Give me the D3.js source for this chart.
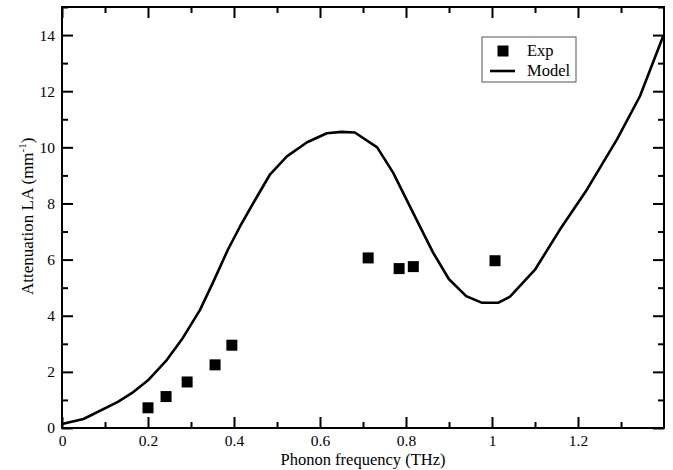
<!DOCTYPE html>
<html>
<head>
<meta charset="utf-8">
<script src="https://cdn.jsdelivr.net/npm/d3@7"></script>
<style>
  body { margin: 0; background: #fff; }
  svg text { font-family: "Liberation Serif", "DejaVu Serif", serif; fill: #000; }
</style>
</head>
<body>
<div id="chart"></div>
<script>
// model curve
var modelFreq  = [0, 0.05, 0.13, 0.163, 0.2, 0.244, 0.281, 0.321, 0.351, 0.386, 0.414, 0.45, 0.484, 0.523, 0.57, 0.616, 0.65, 0.681, 0.733, 0.77, 0.816, 0.863, 0.9, 0.94, 0.977, 1.014, 1.042, 1.1, 1.158, 1.221, 1.291, 1.344, 1.398];
var modelAtten = [0.14, 0.32, 0.93, 1.25, 1.7, 2.43, 3.21, 4.21, 5.18, 6.36, 7.18, 8.15, 9.04, 9.68, 10.18, 10.5, 10.55, 10.53, 10.0, 9.1, 7.68, 6.25, 5.3, 4.7, 4.46, 4.46, 4.68, 5.64, 7.07, 8.5, 10.29, 11.82, 13.96];

// experimental points
var expFreq  = [0.2, 0.242, 0.291, 0.356, 0.395, 0.712, 0.784, 0.817, 1.007];
var expAtten = [0.72, 1.12, 1.64, 2.25, 2.95, 6.06, 5.68, 5.75, 5.96];

// ticks
var xMajor = [0, 0.2, 0.4, 0.6, 0.8, 1.0, 1.2];
var xMinor = [0.1, 0.3, 0.5, 0.7, 0.9, 1.1, 1.3];
var yMajor = [0, 2, 4, 6, 8, 10, 12, 14];
var yMinor = [1, 3, 5, 7, 9, 11, 13, 15];

var width = 673, height = 470;
// plot box (note: "top" is taken by window.top)
var pLeft = 62, pRight = 664, pTop = 7, pBottom = 428;

var svg = d3.select("#chart").append("svg")
  .attr("width", width)
  .attr("height", height);

var x = d3.scaleLinear().domain([0, 1.4]).range([pLeft, pRight]);
var y = d3.scaleLinear().domain([0, 15]).range([pBottom, pTop]);

// axes, ticks pointing inward on all four sides
function styleAxis(g) {
  g.select(".domain").remove();
  g.selectAll(".tick line").attr("stroke", "#000").attr("stroke-width", 2);
  g.selectAll(".tick text").style("font-size", "15.5px");
}

svg.append("g").attr("transform", "translate(0," + pBottom + ")")
  .call(d3.axisBottom(x).tickValues(xMajor).tickSize(-11).tickPadding(7).tickFormat(d3.format("~g")))
  .call(styleAxis);
svg.append("g").attr("transform", "translate(0," + pBottom + ")")
  .call(d3.axisBottom(x).tickValues(xMinor).tickSize(-6).tickFormat(""))
  .call(styleAxis);
svg.append("g").attr("transform", "translate(0," + pTop + ")")
  .call(d3.axisTop(x).tickValues(xMajor).tickSize(-11).tickFormat(""))
  .call(styleAxis);
svg.append("g").attr("transform", "translate(0," + pTop + ")")
  .call(d3.axisTop(x).tickValues(xMinor).tickSize(-6).tickFormat(""))
  .call(styleAxis);

svg.append("g").attr("transform", "translate(" + pLeft + ",0)")
  .call(d3.axisLeft(y).tickValues(yMajor).tickSize(-11).tickPadding(7).tickFormat(d3.format("d")))
  .call(styleAxis);
svg.append("g").attr("transform", "translate(" + pLeft + ",0)")
  .call(d3.axisLeft(y).tickValues(yMinor).tickSize(-6).tickFormat(""))
  .call(styleAxis);
svg.append("g").attr("transform", "translate(" + pRight + ",0)")
  .call(d3.axisRight(y).tickValues(yMajor).tickSize(-11).tickFormat(""))
  .call(styleAxis);
svg.append("g").attr("transform", "translate(" + pRight + ",0)")
  .call(d3.axisRight(y).tickValues(yMinor).tickSize(-6).tickFormat(""))
  .call(styleAxis);

// frame
svg.append("rect")
  .attr("x", pLeft).attr("y", pTop)
  .attr("width", pRight - pLeft).attr("height", pBottom - pTop)
  .attr("fill", "none").attr("stroke", "#000").attr("stroke-width", 2);

// model line
var line = d3.line()
  .x(function(d, i) { return x(modelFreq[i]); })
  .y(function(d, i) { return y(modelAtten[i]); });

svg.append("path")
  .datum(modelFreq)
  .attr("d", line)
  .attr("fill", "none")
  .attr("stroke", "#000")
  .attr("stroke-width", 2.6)
  .attr("stroke-linejoin", "round");

// experimental squares
var sq = 11;
svg.selectAll(".exp").data(expFreq).enter().append("rect")
  .attr("class", "exp")
  .attr("x", function(d) { return x(d) - sq / 2; })
  .attr("y", function(d, i) { return y(expAtten[i]) - sq / 2; })
  .attr("width", sq).attr("height", sq)
  .attr("fill", "#000");

// axis titles
svg.append("text")
  .attr("x", (pLeft + pRight) / 2).attr("y", 465)
  .attr("text-anchor", "middle")
  .style("font-size", "16.5px")
  .text("Phonon frequency (THz)");

var yt = svg.append("text")
  .attr("transform", "translate(33,295) rotate(-90)")
  .attr("text-anchor", "start")
  .style("font-size", "17px");
yt.append("tspan").text("Attenuation LA (mm");
yt.append("tspan").attr("dy", -7).style("font-size", "11px").text("-1");
yt.append("tspan").attr("dy", 7).text(")");

// legend
var lg = svg.append("g");
lg.append("rect")
  .attr("x", 482).attr("y", 37).attr("width", 94).attr("height", 45)
  .attr("fill", "#fff").attr("stroke", "#555").attr("stroke-width", 1);
lg.append("rect")
  .attr("x", 503 - sq / 2).attr("y", 51 - sq / 2).attr("width", sq).attr("height", sq)
  .attr("fill", "#000");
lg.append("line")
  .attr("x1", 490).attr("x2", 515).attr("y1", 71).attr("y2", 71)
  .attr("stroke", "#000").attr("stroke-width", 2.6);
lg.append("text").attr("x", 527).attr("y", 56).style("font-size", "16.5px").text("Exp");
lg.append("text").attr("x", 527).attr("y", 76).style("font-size", "16.5px").text("Model");
</script>
</body>
</html>
